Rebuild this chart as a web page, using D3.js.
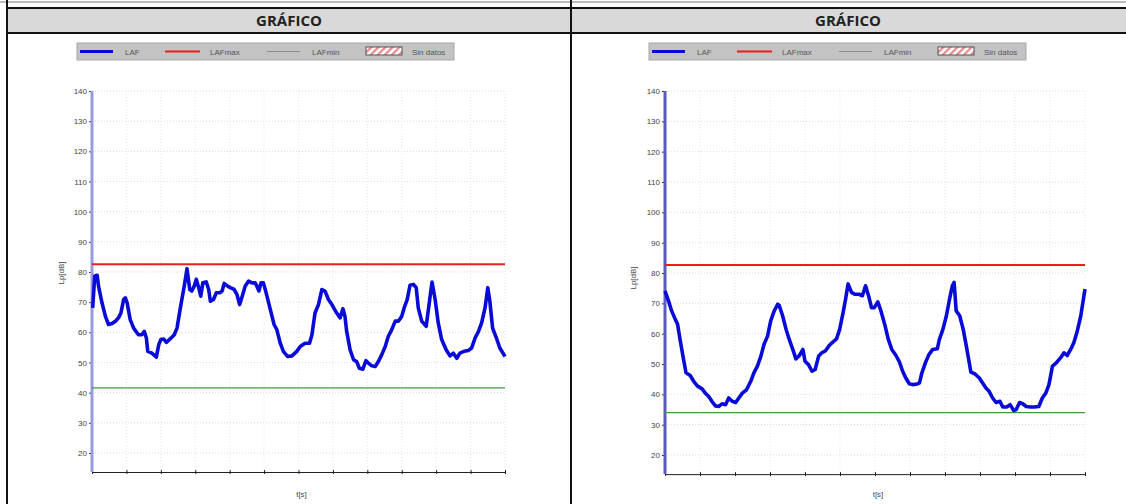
<!DOCTYPE html>
<html lang="es">

<head>
	<meta charset="utf-8">
	<title>Gráfico LAF</title>
	<script type="text/javascript" src="https://cdn.jsdelivr.net/npm/d3@7"></script>
	<style>
		body { margin: 0; background: #fff; }
		svg { display: block; }
	</style>
</head>

<body>
	<script type="text/javascript">

		// tiempo (eje t[s]) y niveles
		const tLeft = [0.2, 0.8, 1.5, 1.9, 2.9, 3.9, 4.8, 5.8, 6.8, 7.7, 8.4, 9.2, 9.7, 10.2, 11.1, 12.1, 13.5, 14.5, 15.2, 15.8,
			16.2, 17.4, 18.7, 19.4, 20.0, 20.8, 21.6, 22.7, 23.9, 24.7, 25.6, 26.8, 27.6, 28.4, 29.0, 29.7, 30.3, 31.0, 31.6, 32.2,
			33.2, 33.9, 34.4, 35.3, 36.1, 37.1, 37.8, 38.4, 39.4, 40.2, 41.3, 42.1, 42.9, 43.5, 44.5, 45.5, 46.5, 47.4, 47.9, 48.5,
			49.1, 49.8, 50.6, 51.8, 52.9, 53.7, 54.7, 55.6, 56.8, 58.1, 59.5, 60.5, 61.9, 63.2, 63.9, 64.8, 65.8, 66.8, 67.7, 68.7,
			69.7, 71.1, 72.1, 72.9, 73.5, 74.0, 75.0, 76.0, 76.9, 77.7, 78.7, 79.6, 80.3, 81.3, 82.3, 83.2, 84.2, 85.2, 86.1, 87.1,
			88.1, 89.0, 90.0, 90.7, 91.6, 92.4, 93.4, 94.2, 94.8, 95.8, 97.1, 98.0, 98.8, 99.7, 100.6, 101.6, 102.9, 104.0, 105.0, 106.0,
			106.9, 108.1, 109.4, 110.3, 111.3, 112.3, 113.2, 114.2, 115.0, 115.6, 116.4, 117.6, 118.5, 120.0];
		const lafLeft = [68.1, 78.7, 78.9, 75.3, 69.8, 65.3, 62.6, 62.9, 63.7, 64.8, 66.4, 70.9, 71.4, 69.8, 64.2, 61.4, 59.2, 59.2, 60.3, 58.1,
			53.7, 53.1, 51.8, 55.9, 57.6, 57.8, 56.7, 57.8, 59.2, 61.4, 67.6, 75.3, 81.1, 74.2, 73.7, 75.3, 77.6, 74.8, 72.0, 76.4,
			76.7, 74.2, 70.3, 70.9, 73.1, 73.1, 73.7, 76.2, 75.3, 74.8, 74.2, 72.6, 69.2, 71.4, 75.3, 77.0, 76.4, 76.4, 75.3, 73.7,
			76.4, 76.4, 73.1, 67.6, 62.6, 60.9, 56.4, 53.7, 52.0, 52.2, 53.7, 55.3, 56.4, 56.4, 59.2, 66.4, 69.2, 74.2, 73.7, 70.9,
			69.2, 66.4, 64.8, 67.8, 65.3, 60.3, 54.2, 50.9, 50.3, 48.1, 47.8, 50.6, 49.8, 48.9, 48.7, 50.3, 52.6, 55.3, 58.7, 60.9,
			63.7, 63.7, 65.3, 68.1, 70.9, 75.6, 75.9, 74.8, 68.1, 63.7, 62.0, 69.8, 76.7, 70.9, 63.1, 57.6, 54.2, 52.2, 53.1, 51.4,
			53.1, 53.7, 54.0, 54.8, 58.1, 60.3, 63.1, 68.1, 74.8, 70.3, 61.4, 57.8, 54.8, 52.0];

		const tRight = [0, 1.0, 1.9, 2.9, 3.6, 4.3, 5.3, 6.0, 7.2, 8.2, 9.3, 10.6, 11.5, 12.5, 13.4, 14.4, 15.4, 16.3, 17.3, 18.2,
			19.2, 20.2, 21.1, 22.1, 23.3, 24.5, 25.4, 26.4, 27.4, 28.3, 29.3, 30.2, 31.2, 32.2, 32.6, 33.6, 34.6, 35.5, 36.5, 37.4,
			38.4, 39.4, 40.0, 41.0, 42.0, 42.9, 43.9, 44.8, 45.8, 46.8, 47.7, 49.0, 49.9, 50.9, 51.6, 52.3, 53.3, 54.2, 55.4, 56.4,
			57.3, 58.3, 59.0, 59.8, 60.8, 61.7, 62.9, 63.8, 64.8, 66.0, 66.9, 67.9, 68.8, 69.8, 70.8, 72.0, 72.7, 73.4, 74.4, 75.4,
			76.5, 77.8, 78.4, 79.4, 80.4, 81.3, 82.1, 82.6, 83.2, 84.2, 85.2, 86.1, 87.4, 88.6, 89.8, 90.7, 91.7, 92.6, 93.6, 94.6,
			95.7, 96.5, 97.6, 98.6, 99.6, 100.3, 101.3, 102.2, 103.2, 104.4, 105.6, 106.8, 107.8, 108.8, 109.7, 110.7, 111.8, 113.0, 114.0, 114.9,
			115.9, 116.8, 117.8, 118.8, 120.0];
		const lafRight = [74.1, 70.8, 67.5, 64.8, 63.1, 58.1, 51.5, 47.1, 46.2, 44.3, 42.7, 41.8, 40.4, 39.3, 37.7, 36.2, 36.0, 36.9, 36.6, 38.8,
			37.7, 37.3, 38.8, 40.4, 41.5, 44.3, 47.1, 49.3, 52.6, 56.5, 59.2, 64.2, 67.5, 69.7, 69.4, 65.9, 61.4, 58.1, 54.8, 51.7,
			52.8, 54.8, 50.9, 49.8, 47.6, 48.2, 52.6, 53.7, 54.3, 55.9, 57.0, 58.3, 61.4, 67.0, 71.4, 76.4, 73.6, 73.0, 73.0, 72.5,
			75.8, 71.9, 68.6, 68.6, 70.5, 67.5, 62.5, 58.1, 54.8, 52.8, 50.9, 47.6, 45.4, 43.5, 43.2, 43.4, 43.8, 47.1, 50.4, 53.1,
			54.8, 55.0, 58.1, 61.4, 65.9, 71.4, 75.8, 76.9, 67.5, 65.9, 61.4, 55.9, 47.3, 46.7, 45.4, 43.8, 42.1, 41.0, 38.8, 37.3,
			37.7, 35.8, 35.8, 36.6, 34.7, 34.9, 37.3, 36.9, 36.0, 35.8, 35.8, 36.0, 38.8, 40.4, 43.2, 49.3, 50.4, 52.0, 53.7, 52.8,
			54.8, 57.0, 60.9, 65.9, 74.7];

		const lafMax = [82.6, 82.6];
		const lafMin = [41.6, 34.0];

		const yTicks = [20, 30, 40, 50, 60, 70, 80, 90, 100, 110, 120, 130, 140];
		const xTicks = [0, 10, 20, 30, 40, 50, 60, 70, 80, 90, 100, 110, 120];
		const legendLabels = ["LAF", "LAFmax", "LAFmin", "Sin datos"];

		const w = 1126;
		const h = 504;
		const blue = "#0a0ad8";
		const red = "#f01c1c";
		const green = "#3f9a3f";

		const svg = d3.select("body")
			.append("svg")
			.attr("width", w)
			.attr("height", h);

		// hatch pattern for "Sin datos"
		const pat = svg.append("defs").append("pattern")
			.attr("id", "hatch")
			.attr("patternUnits", "userSpaceOnUse")
			.attr("width", 5)
			.attr("height", 5)
			.attr("patternTransform", "rotate(45)");
		pat.append("rect").attr("width", 5).attr("height", 5).attr("fill", "#fff");
		pat.append("rect").attr("width", 2.2).attr("height", 5).attr("fill", "#e88a8a");

		// table frame
		svg.append("line").attr("x1", 0).attr("x2", w).attr("y1", 2).attr("y2", 2)
			.attr("stroke", "#777").attr("stroke-width", 1);
		svg.append("rect")
			.attr("x", 7).attr("y", 8).attr("width", w).attr("height", 25)
			.attr("fill", "#d9d9d9")
			.attr("stroke", "#111").attr("stroke-width", 2);
		svg.append("line").attr("x1", 7).attr("x2", 7).attr("y1", 0).attr("y2", h)
			.attr("stroke", "#111").attr("stroke-width", 2);
		svg.append("line").attr("x1", 571).attr("x2", 571).attr("y1", 0).attr("y2", h)
			.attr("stroke", "#111").attr("stroke-width", 2);

		[289, 848].forEach(function (cx) {
			svg.append("text")
				.attr("x", cx)
				.attr("y", 26)
				.attr("text-anchor", "middle")
				.attr("font-family", "'Open Sans', sans-serif")
				.attr("font-weight", "bold")
				.attr("font-size", "15px")
				.attr("fill", "#222")
				.text("GRÁFICO");
		});

		function drawPanel(p) {
			const x = d3.scaleLinear().domain([0, 120]).range([p.x0, p.x1]);
			const y = d3.scaleLinear().domain([20, 140]).range([p.y20, p.y140]);
			const yBottom = y(13.7);

			const g = svg.append("g");

			// legend
			const lg = g.append("g").attr("transform", `translate(${p.legendX},43)`);
			lg.append("rect")
				.attr("width", 377).attr("height", 17)
				.attr("fill", "#c3c3c3")
				.attr("stroke", "#a8a8a8").attr("stroke-width", 1);
			lg.append("line").attr("x1", 3).attr("x2", 36).attr("y1", 8.5).attr("y2", 8.5)
				.attr("stroke", blue).attr("stroke-width", 3);
			lg.append("line").attr("x1", 88).attr("x2", 123).attr("y1", 8.5).attr("y2", 8.5)
				.attr("stroke", red).attr("stroke-width", 2);
			lg.append("line").attr("x1", 190).attr("x2", 223).attr("y1", 8.5).attr("y2", 8.5)
				.attr("stroke", "#8a8a8a").attr("stroke-width", 1);
			lg.append("rect").attr("x", 289).attr("y", 4).attr("width", 36).attr("height", 8)
				.attr("fill", "url(#hatch)").attr("stroke", "#555").attr("stroke-width", 1);
			lg.selectAll("text")
				.data(legendLabels)
				.enter()
				.append("text")
				.attr("x", function (d, i) { return [48, 133, 235, 335][i]; })
				.attr("y", 11.5)
				.attr("font-family", "'Liberation Sans', Arial, sans-serif")
				.attr("font-size", "8px")
				.attr("fill", "#555")
				.text(function (d) { return d; });

			// grid
			g.selectAll("line.hgrid")
				.data(yTicks)
				.enter()
				.append("line")
				.attr("class", "hgrid")
				.attr("x1", p.x0).attr("x2", p.x1)
				.attr("y1", function (d) { return y(d); })
				.attr("y2", function (d) { return y(d); })
				.attr("stroke", "#dcdcdc")
				.attr("stroke-dasharray", "1,2");
			g.selectAll("line.vgrid")
				.data(xTicks.slice(1))
				.enter()
				.append("line")
				.attr("class", "vgrid")
				.attr("x1", function (d) { return x(d); })
				.attr("x2", function (d) { return x(d); })
				.attr("y1", y(140)).attr("y2", yBottom)
				.attr("stroke", "#e6e6e6")
				.attr("stroke-dasharray", "1,2");

			// x axis
			const xAxis = d3.axisBottom(x)
				.tickValues(xTicks)
				.tickSize(2)
				.tickSizeOuter(0)
				.tickFormat("");
			const gx = g.append("g")
				.attr("transform", `translate(0,${yBottom})`)
				.call(xAxis);
			gx.select(".domain").attr("stroke", "#222");
			gx.selectAll(".tick line").attr("stroke", "#222").attr("y1", -2);

			// y axis
			const yAxis = d3.axisLeft(y)
				.tickValues(yTicks)
				.tickSize(3)
				.tickSizeOuter(0);
			const gy = g.append("g")
				.attr("transform", `translate(${p.x0},0)`)
				.call(yAxis);
			gy.select(".domain").remove();
			gy.selectAll(".tick line").attr("stroke", "#333");
			gy.selectAll(".tick text")
				.attr("font-family", "'Liberation Sans', Arial, sans-serif")
				.attr("font-size", "8px")
				.attr("fill", "#444")
				.attr("x", -5);
			g.append("line")
				.attr("x1", p.x0).attr("x2", p.x0)
				.attr("y1", y(140)).attr("y2", yBottom)
				.attr("stroke", p.axisColor).attr("stroke-width", 3);

			// LAFmax / LAFmin
			g.append("line")
				.attr("x1", p.x0).attr("x2", x(120))
				.attr("y1", y(p.max)).attr("y2", y(p.max))
				.attr("stroke", red).attr("stroke-width", 2);
			g.append("line")
				.attr("x1", p.x0).attr("x2", x(120))
				.attr("y1", y(p.min)).attr("y2", y(p.min))
				.attr("stroke", green).attr("stroke-width", 1.2);

			// LAF
			const line = d3.line()
				.x(function (d) { return x(d[0]); })
				.y(function (d) { return y(d[1]); });
			g.append("path")
				.datum(d3.zip(p.t, p.laf))
				.attr("d", line)
				.attr("fill", "none")
				.attr("stroke", blue)
				.attr("stroke-width", 3.6)
				.attr("stroke-linejoin", "round");

			// axis titles
			g.append("text")
				.attr("transform", `translate(${p.yLabelX},${p.yLabelY}) rotate(-90)`)
				.attr("text-anchor", "middle")
				.attr("font-family", "'Liberation Sans', Arial, sans-serif")
				.attr("font-size", "8px")
				.attr("fill", "#444")
				.text("Lp[dB]");
			g.append("text")
				.attr("x", (p.x0 + p.x1) / 2 + 3)
				.attr("y", 497)
				.attr("text-anchor", "middle")
				.attr("font-family", "'Liberation Sans', Arial, sans-serif")
				.attr("font-size", "8px")
				.attr("fill", "#444")
				.text("t[s]");
		}

		drawPanel({
			x0: 92, x1: 505, y140: 91, y20: 453, legendX: 77,
			t: tLeft, laf: lafLeft, max: lafMax[0], min: lafMin[0],
			axisColor: "#9a9ae0", yLabelX: 64, yLabelY: 273
		});
		drawPanel({
			x0: 665, x1: 1085, y140: 91, y20: 455, legendX: 649,
			t: tRight, laf: lafRight, max: lafMax[1], min: lafMin[1],
			axisColor: "#5a5ac0", yLabelX: 636, yLabelY: 278
		});

	</script>
</body>

</html>
